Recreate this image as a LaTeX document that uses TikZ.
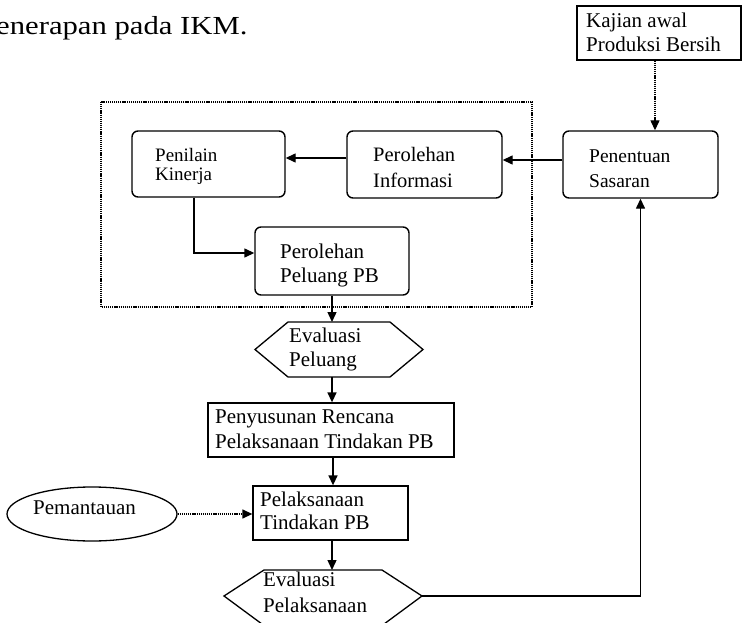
\documentclass[tikz,border=0pt]{standalone}
\usepackage{fontspec}
\setmainfont{Liberation Serif}
\usetikzlibrary{arrows.meta,shapes.geometric}

\tikzset{
  rbox/.style={draw, line width=1.4pt, rounded corners=6pt, inner sep=0pt},
  sbox/.style={draw, line width=1.3pt, inner sep=0pt},
  ovalbox/.style={draw, ellipse, line width=1.3pt, inner sep=0pt},
  hexline/.style={line width=1.3pt, line join=miter},
  lbl/.style={inner sep=0pt, anchor=base west, font=\fontsize{21}{24}\selectfont},
  arr/.style={line width=1.4pt, -{Triangle[length=10pt,width=9pt]}},
  dotarr/.style={line width=1.3pt, dash pattern=on 1.2pt off 0.9pt, -{Triangle[length=10pt,width=9pt]}},
  dotframe/.style={line width=1.2pt, dash pattern=on 1.2pt off 0.9pt}
}

\begin{document}
\begin{tikzpicture}[x=1pt, y=-1pt]
\useasboundingbox (0,0) rectangle (742,623);
\clip (0,0) rectangle (742,623);

% heading fragment
\node[lbl, font=\fontsize{26}{30}\selectfont] (head) at (-4,35) {\scalebox{1.18}[1]{enerapan pada IKM.}};

% dotted frame around the analysis steps
\draw[dotframe] (101,102) rectangle (532,307);

% boxes
\node[sbox, minimum width=164pt, minimum height=54pt] (kj) at (659,33) {};
\node[rbox, minimum width=155pt, minimum height=67pt] (ps) at (640.5,164.5) {};
\node[rbox, minimum width=155pt, minimum height=67pt] (pi) at (424.5,164.5) {};
\node[rbox, minimum width=153pt, minimum height=66pt] (pk) at (208.5,164) {};
\node[rbox, minimum width=154pt, minimum height=68pt] (pl) at (332,261) {};
\node[sbox, minimum width=246pt, minimum height=54pt] (pn) at (331,430) {};
\node[sbox, minimum width=155pt, minimum height=54pt] (pt) at (330.5,513) {};
\node[ovalbox, minimum width=170pt, minimum height=54pt] (pm) at (92,514) {};

% decision hexagons
\coordinate (ea-top) at (332,322);
\coordinate (ea-bot) at (332,377);
\draw[hexline] (255,349.5) -- (288,322) -- (390,322) -- (423,349.5) -- (390,377) -- (288,377) -- cycle;
\coordinate (eb-top) at (332,570);
\coordinate (eb-right) at (422,596);
\draw[hexline] (224,596) -- (264,570) -- (382,570) -- (422,596) -- (380,627) -- (266,627) -- cycle;

% texts
\node[lbl, font=\fontsize{21}{24}\selectfont] (kj1) at (586,28) {Kajian awal};
\node[lbl, font=\fontsize{21}{24}\selectfont] (kj2) at (586,52) {Produksi Bersih};
\node[lbl, font=\fontsize{19.5}{23}\selectfont] (ps1) at (589,163) {Penentuan};
\node[lbl, font=\fontsize{19.5}{23}\selectfont] (ps2) at (589,187) {Sasaran};
\node[lbl, font=\fontsize{20.5}{24}\selectfont] (pi1) at (373,161) {Perolehan};
\node[lbl, font=\fontsize{20.5}{24}\selectfont] (pi2) at (373,187) {Informasi};
\node[lbl, font=\fontsize{19}{21}\selectfont] (pk1) at (155,162) {Penilain};
\node[lbl, font=\fontsize{19}{21}\selectfont] (pk2) at (155,181) {Kinerja};
\node[lbl, font=\fontsize{21}{24}\selectfont] (pl1) at (280,258) {Perolehan};
\node[lbl, font=\fontsize{21}{24}\selectfont] (pl2) at (280,282) {Peluang PB};
\node[lbl] (ea1) at (289,342) {Evaluasi};
\node[lbl] (ea2) at (289,366) {Peluang};
\node[lbl] (pn1) at (215,423) {Penyusunan Rencana};
\node[lbl] (pn2) at (215,448) {Pelaksanaan Tindakan PB};
\node[lbl] (pt1) at (260,506) {Pelaksanaan};
\node[lbl] (pt2) at (260,529) {Tindakan PB};
\node[lbl] (pm1) at (33,514) {Pemantauan};
\node[lbl] (eb1) at (263,586) {Evaluasi};
\node[lbl] (eb2) at (263,612) {Pelaksanaan};

% connectors
\draw[dotarr] ([xshift=-4pt]kj.south) -- ([xshift=-4pt]kj.south |- ps.north);
\draw[arr] ([yshift=4.5pt]ps.west) -- ([yshift=4.5pt]ps.west -| pi.east);
\draw[arr] ([yshift=6.5pt]pi.west) -- ([yshift=6.5pt]pi.west -| pk.east);
\draw[arr] ([xshift=-14.5pt]pk.south) |- ([yshift=8pt]pl.west);
\draw[arr] (pl.south) -- (ea-top);
\draw[arr] (ea-bot) -- (ea-bot |- pn.north);
\draw[arr] ([xshift=2pt]pn.south) -- ([xshift=2pt]pn.south |- pt.north);
\draw[dotarr] (pm.east) -- (pm.east -| pt.west);
\draw[arr] ([xshift=1.5pt]pt.south) -- (eb-top);
\draw[arr] (eb-right) -| (ps.south);
\end{tikzpicture}
\end{document}
